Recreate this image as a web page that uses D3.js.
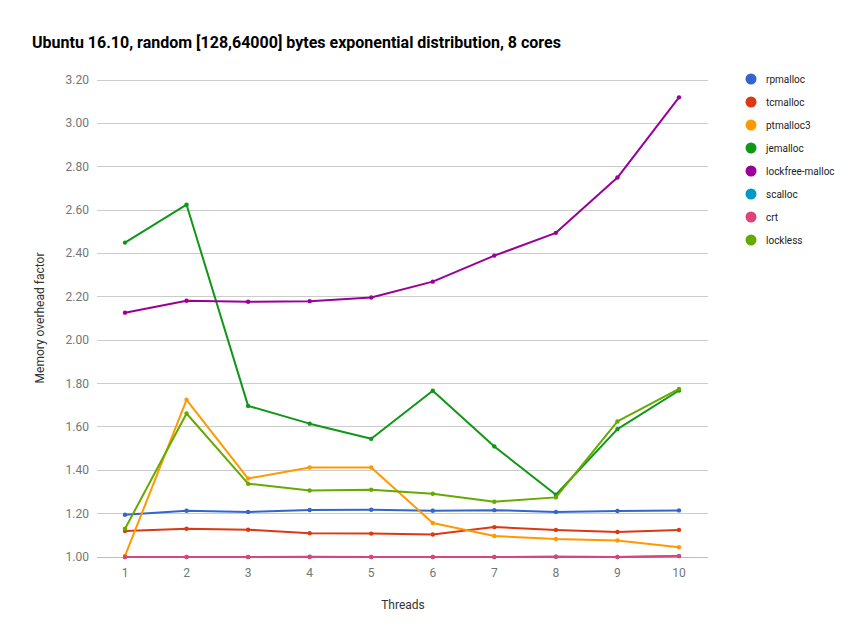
<!DOCTYPE html>
<html><head><meta charset="utf-8">
<script src="https://cdn.jsdelivr.net/npm/d3@7/dist/d3.min.js"></script>
<style>body{margin:0;background:#fff}svg{display:block;font-family:Roboto,Arial,sans-serif}</style>
</head><body>
<script>
const threads = [1,2,3,4,5,6,7,8,9,10];
const seriesNames = ["rpmalloc","tcmalloc","ptmalloc3","jemalloc","lockfree-malloc","scalloc","crt","lockless"];
const colors = ["#3366cc","#dc3912","#ff9900","#109618","#990099","#0099c6","#dd4477","#66aa00"];
const rpmalloc = [1.195,1.213,1.208,1.217,1.218,1.213,1.216,1.208,1.212,1.215];
const tcmalloc = [1.12,1.13,1.126,1.11,1.108,1.104,1.138,1.125,1.115,1.125];
const ptmalloc3 = [1.005,1.725,1.362,1.413,1.413,1.157,1.097,1.083,1.076,1.045];
const jemalloc = [2.45,2.625,1.697,1.615,1.545,1.767,1.51,1.287,1.59,1.768];
const lockfree = [2.127,2.182,2.177,2.18,2.197,2.27,2.39,2.495,2.75,3.12];
const scalloc = [1.0,1.0,1.0,1.001,1.0,1.0,1.0,1.001,1.0,1.005];
const crt = [1.0,1.0,1.0,1.0,1.0,1.0,1.0,1.001,1.0,1.004];
const lockless = [1.13,1.662,1.338,1.307,1.31,1.292,1.255,1.275,1.625,1.775];
const seriesValues = [rpmalloc,tcmalloc,ptmalloc3,jemalloc,lockfree,scalloc,crt,lockless];
const yTicks = [1.0,1.2,1.4,1.6,1.8,2.0,2.2,2.4,2.6,2.8,3.0,3.2];

const W=864,H=644;
const svg=d3.select("body").append("svg").attr("width",W).attr("height",H);
const x=d3.scaleLinear().domain([1,10]).range([125,679]);
const y=d3.scaleLinear().domain([1,3.2]).range([557,80]);
const left=97,right=708;

svg.append("text").attr("x",32).attr("y",48).attr("font-size",16).attr("font-weight","bold").attr("fill","#000")
  .text("Ubuntu 16.10, random [128,64000] bytes exponential distribution, 8 cores");

const g=svg.append("g");
g.selectAll("line.grid").data(yTicks).join("line").attr("class","grid")
  .attr("x1",left).attr("x2",right).attr("y1",d=>y(d)).attr("y2",d=>y(d))
  .attr("stroke",d=>d===1?"#bdbdbd":"#cccccc").attr("stroke-width",1).attr("shape-rendering","crispEdges");
g.selectAll("text.yt").data(yTicks).join("text").attr("class","yt")
  .attr("x",89).attr("y",d=>y(d)+4).attr("text-anchor","end").attr("font-size",12).attr("fill","#757575")
  .text(d=>d3.format(".2f")(d));
g.selectAll("text.xt").data(threads).join("text").attr("class","xt")
  .attr("x",d=>x(d)).attr("y",577).attr("text-anchor","middle").attr("font-size",12).attr("fill","#757575")
  .text(d=>d);

svg.append("text").attr("x",403).attr("y",609).attr("text-anchor","middle").attr("font-size",12).attr("fill","#333").text("Threads");
svg.append("text").attr("transform","translate(44,318) rotate(-90)").attr("text-anchor","middle").attr("font-size",12).attr("fill","#333").text("Memory overhead factor");

const line=d3.line().x((d,i)=>x(threads[i])).y(d=>y(d));
seriesValues.forEach((vals,si)=>{
  const s=svg.append("g");
  s.append("path").datum(vals).attr("d",line).attr("fill","none").attr("stroke",colors[si]).attr("stroke-width",2).attr("stroke-linejoin","round");
  s.selectAll("circle").data(vals).join("circle").attr("cx",(d,i)=>x(threads[i])).attr("cy",d=>y(d)).attr("r",2.2).attr("fill",colors[si]);
});

const lg=svg.append("g");
seriesNames.forEach((n,i)=>{
  const yy=79+i*23;
  lg.append("circle").attr("cx",751).attr("cy",yy).attr("r",5.5).attr("fill",colors[i]);
  lg.append("text").attr("x",766).attr("y",yy+3.5).attr("font-size",10).attr("fill","#222").text(n);
});
</script>
</body></html>
